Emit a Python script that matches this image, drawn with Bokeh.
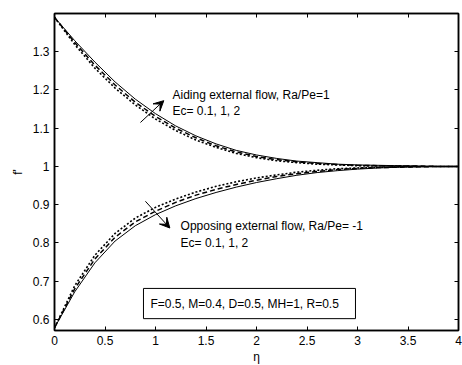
from bokeh.plotting import figure
from bokeh.models import (LinearAxis, FixedTicker, Arrow, VeeHead, BoxAnnotation,
                          CustomJSTickFormatter, Range1d)
from bokeh.core.properties import value
from bokeh.embed import file_html
from bokeh.resources import INLINE

# similarity variable
eta = [0.0, 0.2, 0.4, 0.6, 0.8, 1.0, 1.2, 1.4, 1.6, 1.8, 2.0,
       2.2, 2.4, 2.6, 2.8, 3.0, 3.2, 3.4, 3.6, 3.8, 4.0]

# f' for aiding external flow (Ra/Pe = 1), Ec = 0.1, 1, 2
aid_ec01 = [1.390, 1.329, 1.273, 1.221, 1.176, 1.138, 1.106, 1.080, 1.059, 1.042, 1.030,
            1.021, 1.014, 1.010, 1.006, 1.004, 1.003, 1.002, 1.001, 1.000, 1.000]
aid_ec1 = [1.390, 1.324, 1.265, 1.213, 1.168, 1.131, 1.100, 1.075, 1.054, 1.038, 1.026,
           1.018, 1.012, 1.008, 1.005, 1.003, 1.002, 1.001, 1.001, 1.000, 1.000]
aid_ec2 = [1.390, 1.319, 1.257, 1.205, 1.161, 1.124, 1.094, 1.069, 1.050, 1.034, 1.023,
           1.015, 1.010, 1.006, 1.004, 1.002, 1.001, 1.001, 1.000, 1.000, 1.000]

# f' for opposing external flow (Ra/Pe = -1), Ec = 0.1, 1, 2
opp_ec01 = [0.578, 0.672, 0.748, 0.805, 0.845, 0.874, 0.897, 0.916, 0.932, 0.946, 0.958,
            0.968, 0.977, 0.984, 0.989, 0.993, 0.996, 0.998, 0.999, 1.000, 1.000]
opp_ec1 = [0.578, 0.680, 0.758, 0.815, 0.855, 0.883, 0.906, 0.925, 0.940, 0.953, 0.964,
           0.974, 0.981, 0.987, 0.992, 0.995, 0.997, 0.998, 0.999, 1.000, 1.000]
opp_ec2 = [0.578, 0.688, 0.768, 0.825, 0.865, 0.893, 0.915, 0.933, 0.948, 0.960, 0.970,
           0.978, 0.985, 0.990, 0.994, 0.996, 0.998, 0.999, 1.000, 1.000, 1.000]

x_ticks = [0, 0.5, 1, 1.5, 2, 2.5, 3, 3.5, 4]
y_ticks = [0.6, 0.7, 0.8, 0.9, 1.0, 1.1, 1.2, 1.3]

FONT = "Liberation Sans"
FS = "12px"

p = figure(width=462, height=365, output_backend="svg", toolbar_location=None,
           x_range=Range1d(0, 4), y_range=Range1d(0.571, 1.4),
           min_border_left=54, min_border_right=4, min_border_top=13, min_border_bottom=35)
p.frame_width = 404
p.frame_height = 317
p.xgrid.visible = False
p.ygrid.visible = False
p.outline_line_color = "black"
p.outline_line_width = 1.5
p.outline_line_alpha = 1.0
p.background_fill_color = "white"
p.border_fill_color = "white"


def style_axis(ax, ticks):
    ax.ticker = FixedTicker(ticks=ticks)
    ax.major_tick_in = 4
    ax.major_tick_out = 0
    ax.major_tick_line_color = "black"
    ax.minor_tick_line_color = None
    ax.axis_line_color = "black"
    ax.axis_line_width = 1.5
    ax.major_label_text_font = FONT
    ax.major_label_text_font_size = FS
    ax.major_label_text_color = "black"
    ax.axis_label_text_font = FONT
    ax.axis_label_text_font_size = FS
    ax.axis_label_text_font_style = "normal"
    ax.axis_label_text_color = "black"


style_axis(p.xaxis[0], x_ticks)
style_axis(p.yaxis[0], y_ticks)
p.xaxis[0].axis_label = "η"
p.yaxis[0].axis_label = "f'"
p.xaxis[0].major_label_standoff = 5
p.xaxis[0].axis_label_standoff = 2
p.yaxis[0].major_label_standoff = 5
p.yaxis[0].axis_label_standoff = 5
p.xaxis[0].major_label_overrides = {0: "0", 1: "1", 2: "2", 3: "3", 4: "4"}
p.yaxis[0].major_label_overrides = {1.0: "1"}

# box-style ticks on the top and right edges
blank = CustomJSTickFormatter(code="return '';")
top = LinearAxis(formatter=blank, major_label_standoff=0)
right = LinearAxis(formatter=blank, major_label_standoff=0)
style_axis(top, x_ticks)
style_axis(right, y_ticks)
p.add_layout(top, "above")
p.add_layout(right, "right")

# parameter box (drawn beneath the glyphs so its text sits on top)
p.add_layout(BoxAnnotation(left=0.881, right=2.98, bottom=0.602, top=0.681,
                           fill_color="white", fill_alpha=1.0,
                           line_color="black", line_alpha=1.0, line_width=1,
                           level="underlay"))

# curves
solid = dict(line_color="black", line_width=1)
dashed = dict(line_color="black", line_width=1.5, line_dash="5 3")
dotted = dict(line_color="black", line_width=1.6, line_dash="2 2")

p.line(eta, aid_ec01, **solid)
p.line(eta, aid_ec1, **dashed)
p.line(eta, aid_ec2, **dotted)
p.line(eta, opp_ec01, **solid)
p.line(eta, opp_ec1, **dashed)
p.line(eta, opp_ec2, **dotted)

# arrows marking increasing Ec
p.add_layout(Arrow(x_start=0.851, y_start=1.115, x_end=1.082, y_end=1.172,
                   line_color="black", line_width=1,
                   end=VeeHead(size=10, fill_color="black", line_color="black", line_width=1)))
p.add_layout(Arrow(x_start=0.90, y_start=0.909, x_end=1.142, y_end=0.839,
                   line_color="black", line_width=1,
                   end=VeeHead(size=10, fill_color="black", line_color="black", line_width=1)))

txt = dict(text_font=value(FONT), text_font_size=FS, text_color="black",
           text_align="left", text_baseline="middle")
p.text(x=[1.168, 1.168], y=[1.187, 1.146],
       text=["Aiding external flow, Ra/Pe=1", "Ec= 0.1, 1, 2"], **txt)
p.text(x=[1.248, 1.248], y=[0.844, 0.800],
       text=["Opposing external flow, Ra/Pe= -1", "Ec= 0.1, 1, 2"], **txt)
p.text(x=[0.950], y=[0.641], text=["F=0.5, M=0.4, D=0.5, MH=1, R=0.5"], **txt)

open("out.html", "w").write(file_html(p, INLINE))
